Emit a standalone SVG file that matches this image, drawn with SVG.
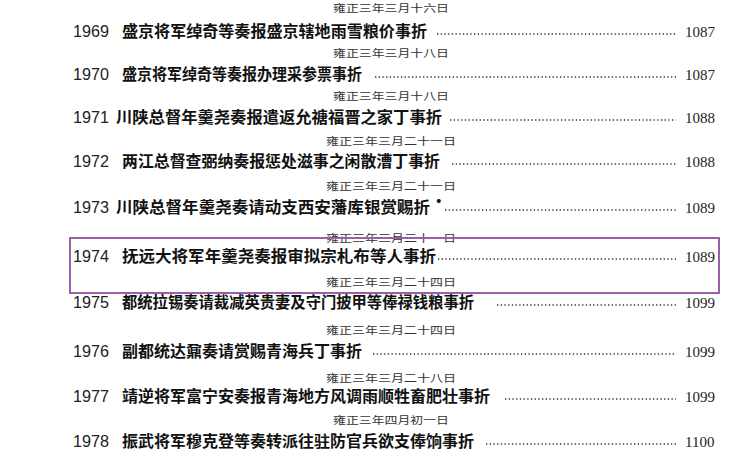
<svg xmlns="http://www.w3.org/2000/svg" width="740" height="457" viewBox="0 0 740 457">
<style>
.n{font-family:"Liberation Sans",sans-serif;font-size:17px;fill:#222}
.t{font-family:"Noto Sans CJK SC",sans-serif;font-weight:bold;font-size:15.5px;fill:#111}
.d{font-family:"Noto Sans CJK SC",sans-serif;font-size:10.5px;fill:#333}
.p{font-family:"Liberation Serif",serif;font-size:15px;fill:#222}
.dot{stroke:#333;stroke-width:1.6;stroke-dasharray:1.3 2.4}
</style>
<rect width="740" height="457" fill="#fff"/>
<g id="dates">
<text class="d" x="333" y="12" textLength="116" lengthAdjust="spacingAndGlyphs">雍正三年三月十六日</text>
<text class="d" x="333" y="57" textLength="116" lengthAdjust="spacingAndGlyphs">雍正三年三月十八日</text>
<text class="d" x="333" y="100" textLength="116" lengthAdjust="spacingAndGlyphs">雍正三年三月十八日</text>
<text class="d" x="326" y="145" textLength="130" lengthAdjust="spacingAndGlyphs">雍正三年三月二十一日</text>
<text class="d" x="326" y="190" textLength="130" lengthAdjust="spacingAndGlyphs">雍正三年三月二十一日</text>
<text class="d" x="326" y="242" textLength="130" lengthAdjust="spacingAndGlyphs">雍正三年三月二十一日</text>
<text class="d" x="326" y="286" textLength="130" lengthAdjust="spacingAndGlyphs">雍正三年三月二十四日</text>
<text class="d" x="326" y="334" textLength="130" lengthAdjust="spacingAndGlyphs">雍正三年三月二十四日</text>
<text class="d" x="326" y="382" textLength="130" lengthAdjust="spacingAndGlyphs">雍正三年三月二十八日</text>
<text class="d" x="333" y="424" textLength="116" lengthAdjust="spacingAndGlyphs">雍正三年四月初一日</text>
</g>
<g id="e1969"><text class="n" x="73" y="37" textLength="36" lengthAdjust="spacingAndGlyphs">1969</text><text class="t" x="122" y="37" textLength="305" lengthAdjust="spacingAndGlyphs">盛京将军绰奇等奏报盛京辖地雨雪粮价事折</text><text class="p" x="685" y="37">1087</text></g>
<g id="e1970"><text class="n" x="73" y="80" textLength="36" lengthAdjust="spacingAndGlyphs">1970</text><text class="t" x="122" y="80" textLength="240" lengthAdjust="spacingAndGlyphs">盛京将军绰奇等奏报办理采参票事折</text><text class="p" x="685" y="80">1087</text></g>
<g id="e1971"><text class="n" x="73" y="123" textLength="36" lengthAdjust="spacingAndGlyphs">1971</text><text class="t" x="116" y="123" textLength="326" lengthAdjust="spacingAndGlyphs">川陕总督年羹尧奏报遣返允禟福晋之家丁事折</text><text class="p" x="685" y="123">1088</text></g>
<g id="e1972"><text class="n" x="73" y="167" textLength="36" lengthAdjust="spacingAndGlyphs">1972</text><text class="t" x="122" y="167" textLength="318" lengthAdjust="spacingAndGlyphs">两江总督查弼纳奏报惩处滋事之闲散漕丁事折</text><text class="p" x="685" y="167">1088</text></g>
<g id="e1973"><text class="n" x="73" y="213" textLength="36" lengthAdjust="spacingAndGlyphs">1973</text><text class="t" x="116" y="213" textLength="314" lengthAdjust="spacingAndGlyphs">川陕总督年羹尧奏请动支西安藩库银赏赐折</text><text class="t" x="431" y="207">·</text><text class="p" x="685" y="213">1089</text></g>
<g id="e1974"><rect x="70" y="238" width="649" height="55" fill="none" stroke="#9b5fa6" stroke-width="2"/><text class="n" x="73" y="262" textLength="36" lengthAdjust="spacingAndGlyphs">1974</text><text class="t" x="122" y="262" textLength="314" lengthAdjust="spacingAndGlyphs">抚远大将军年羹尧奏报审拟宗札布等人事折</text><text class="p" x="685" y="262">1089</text></g>
<g id="e1975"><text class="n" x="73" y="308" textLength="36" lengthAdjust="spacingAndGlyphs">1975</text><text class="t" x="122" y="308" textLength="352" lengthAdjust="spacingAndGlyphs">都统拉锡奏请裁减英贵妻及守门披甲等俸禄钱粮事折</text><text class="p" x="685" y="308">1099</text></g>
<g id="e1976"><text class="n" x="73" y="357" textLength="36" lengthAdjust="spacingAndGlyphs">1976</text><text class="t" x="122" y="357" textLength="240" lengthAdjust="spacingAndGlyphs">副都统达鼐奏请赏赐青海兵丁事折</text><text class="p" x="685" y="357">1099</text></g>
<g id="e1977"><text class="n" x="73" y="402" textLength="36" lengthAdjust="spacingAndGlyphs">1977</text><text class="t" x="122" y="402" textLength="368" lengthAdjust="spacingAndGlyphs">靖逆将军富宁安奏报青海地方风调雨顺牲畜肥壮事折</text><text class="p" x="685" y="402">1099</text></g>
<g id="e1978"><text class="n" x="73" y="447" textLength="36" lengthAdjust="spacingAndGlyphs">1978</text><text class="t" x="122" y="447" textLength="352" lengthAdjust="spacingAndGlyphs">振武将军穆克登等奏转派往驻防官兵欲支俸饷事折</text><text class="p" x="685" y="447">1100</text></g>
<g id="connectors">
<line class="dot" x1="437" y1="34" x2="676" y2="34"/>
<line class="dot" x1="375" y1="77" x2="676" y2="77"/>
<line class="dot" x1="450" y1="120" x2="676" y2="120"/>
<line class="dot" x1="452" y1="164" x2="676" y2="164"/>
<line class="dot" x1="445" y1="210" x2="676" y2="210"/>
<line class="dot" x1="438" y1="259" x2="676" y2="259"/>
<line class="dot" x1="497" y1="305" x2="676" y2="305"/>
<line class="dot" x1="373" y1="354" x2="676" y2="354"/>
<line class="dot" x1="505" y1="399" x2="676" y2="399"/>
<line class="dot" x1="486" y1="444" x2="676" y2="444"/>
</g>
</svg>
